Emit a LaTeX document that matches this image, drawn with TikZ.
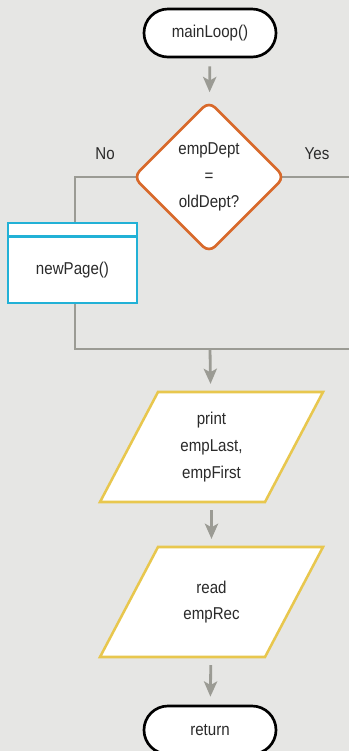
\documentclass[tikz,border=0pt]{standalone}
\usepackage{fontspec}
\setmainfont{Liberation Sans}[FakeStretch=0.88]
\usetikzlibrary{arrows.meta, shapes.geometric, backgrounds}
\definecolor{bgpanel}{HTML}{E6E6E4}
\definecolor{flowgray}{HTML}{9B9B94}
\definecolor{decorange}{HTML}{D8692B}
\definecolor{proccyan}{HTML}{22B1D6}
\definecolor{ioyellow}{HTML}{E8C74E}
\definecolor{inkgray}{HTML}{2A2A2A}
\tikzset{
  T/.style={draw=black, fill=white, rounded corners=0.6cm, minimum width=3.3cm,
    minimum height=1.2cm, line width=1.9pt, font=\fontsize{12.2}{19}\selectfont,
    text=inkgray},
  Q/.style={diamond, aspect=1, draw=decorange, fill=white, rounded corners=6pt,
    minimum size=3.8cm, inner sep=0pt, line width=1.9pt, align=center,
    font=\fontsize{12.2}{19}\selectfont, text=inkgray},
  P/.style={draw=proccyan, fill=white, minimum width=3.22cm, minimum height=2cm,
    line width=1.8pt, align=center, font=\fontsize{12.2}{19}\selectfont,
    text=inkgray},
  IO/.style={minimum width=4.1cm, minimum height=2.74cm, inner sep=0pt,
    align=center, font=\fontsize{12.2}{19}\selectfont, text=inkgray},
  IOframe/.style={draw=ioyellow, fill=white, line width=1.8pt},
  a/.style={-{Stealth[length=3.8mm, width=3.3mm, inset=0.9mm]}, draw=flowgray,
    line width=2pt, shorten <=2mm, shorten >=2mm},
  l/.style={draw=flowgray, line width=2pt},
  lab/.style={font=\fontsize{12.2}{15}\selectfont, text=inkgray},
}

\begin{document}
\begin{tikzpicture}[x=0.025cm, y=-0.025cm]

\useasboundingbox (0,0) rectangle (349,751);

% start
\node[T] at (210,33) (start) {mainLoop()};

% decision
\node[Q] at (209,177) (dec) {empDept\\=\\oldDept?};
\draw[a] (start) -- (dec);

\node[lab] at (105,154) (no) {No};
\node[lab] at (317,154) (yes) {Yes};

% no branch: new page
\node[P] at (72.5,263) (newpg) {\raisebox{-5pt}[9pt][3pt]{newPage()}};
\draw[proccyan, line width=1.8pt]
  ([yshift=-3.75mm]newpg.north west) -- ([yshift=-3.75mm]newpg.north east);

% yes branch runs off the right edge, join below
\coordinate (yesend) at (349,177);
\coordinate (joinend) at (349,349);
\coordinate (join) at (210,349);

% output
\draw[IOframe] (211.5,447) ++(-53.5,-55) -- ++(165,0) -- ++(-58,110)
  -- ++(-165,0) -- cycle;
\node[IO] at (211.5,447) (prn) {print\\empLast,\\empFirst};
\draw[a, shorten <=0pt] (join) -- (prn);

% input
\draw[IOframe] (211.5,602) ++(-53.5,-55) -- ++(165,0) -- ++(-58,110)
  -- ++(-165,0) -- cycle;
\node[IO] at (211.5,602) (rd) {read\\empRec};
\draw[a] (prn) -- (rd);

% end
\node[T] at (210,730) (ret) {return};
\draw[a] (rd) -- (ret);

% panel and branch lines behind the shapes
\begin{scope}[on background layer]
  \fill[bgpanel] (0,0) rectangle (349,751);
  \draw[l] (dec.center) -| (newpg.north -| 75,0);
  \draw[l] (dec.center) -- (yesend);
  \draw[l] (newpg.south -| 75,0) |- (joinend);
\end{scope}

\end{tikzpicture}
\end{document}
